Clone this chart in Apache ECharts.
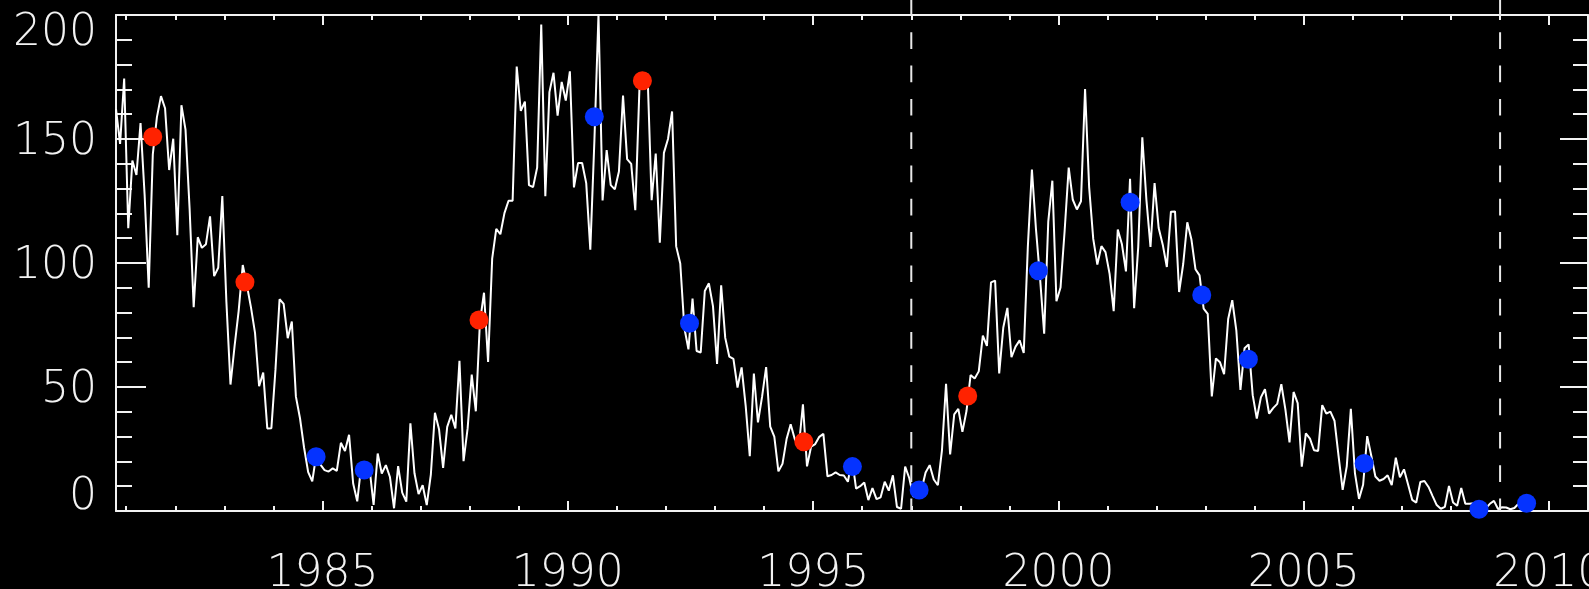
<!DOCTYPE html>
<html>
<head>
<meta charset="utf-8">
<title>Monthly sunspot number 1980-2010</title>
<script src="https://cdn.jsdelivr.net/npm/echarts@6.0.0/dist/echarts.min.js"></script>
<style>
  html, body { margin: 0; padding: 0; background: #000; }
  #chart { width: 1589px; height: 589px; }
</style>
</head>
<body>
<div id="chart"></div>
<script>
// Monthly mean sunspot number, Oct 1980 .. Dec 1989
const ssn1980s = [
  162.0, 148.0, 174.4,
  114.0, 141.3, 135.5, 156.4, 127.5, 90.0, 143.8, 158.7, 167.3, 162.4, 137.5, 150.1,
  111.2, 163.6, 153.8, 122.0, 82.2, 110.4, 106.1, 107.6, 118.8, 94.7, 98.1, 127.0,
  84.3, 51.0, 66.5, 80.7, 99.2, 91.1, 82.2, 71.8, 50.3, 55.8, 33.3, 33.4,
  57.0, 85.4, 83.5, 69.7, 76.4, 46.1, 37.4, 25.5, 15.7, 12.0, 22.8, 18.7,
  16.5, 15.9, 17.2, 16.2, 27.5, 24.2, 30.7, 11.1, 3.9, 18.6, 16.2, 17.3,
  2.5, 23.2, 15.1, 18.5, 13.7, 1.1, 18.1, 7.4, 3.8, 35.4, 15.2, 6.8,
  10.4, 2.4, 14.7, 39.6, 33.0, 17.4, 33.9, 38.8, 33.3, 60.6, 20.1, 33.4,
  55.0, 40.2, 76.2, 88.0, 60.1, 101.8, 113.8, 111.6, 120.1, 125.1, 125.1, 179.2,
  161.3, 165.1, 131.4, 130.6, 138.5, 196.2, 126.9, 168.9, 176.7, 159.4, 173.0, 165.5
];
// Jan 1990 .. Dec 1999
const ssn1990s = [
  177.3, 130.5, 140.3, 140.3, 132.2, 105.4, 149.4, 200.3, 125.2, 145.5, 131.4, 129.7,
  136.9, 167.5, 141.9, 140.0, 121.3, 169.7, 173.7, 176.3, 125.3, 144.1, 108.2, 144.4,
  150.0, 161.1, 106.7, 99.8, 73.8, 65.2, 85.7, 64.5, 63.9, 88.7, 91.8, 82.6,
  59.3, 91.0, 69.8, 62.2, 61.3, 49.8, 57.9, 42.4, 22.1, 55.4, 35.7, 46.0,
  58.0, 34.0, 30.0, 16.0, 19.0, 29.0, 35.0, 29.0, 26.0, 43.0, 18.0, 26.0,
  27.0, 29.9, 31.1, 14.0, 14.5, 15.6, 14.5, 14.3, 11.8, 21.1, 9.0, 10.0,
  11.5, 4.4, 9.2, 4.8, 5.5, 11.8, 8.2, 14.4, 1.6, 0.9, 17.9, 13.3,
  5.7, 7.6, 8.7, 15.5, 18.5, 12.7, 10.4, 24.4, 51.3, 22.8, 39.0, 41.2,
  31.9, 40.3, 54.8, 53.4, 56.3, 70.7, 66.6, 92.2, 92.9, 55.5, 74.0, 81.9,
  62.0, 66.3, 68.8, 63.7, 106.4, 137.7, 113.5, 93.7, 71.5, 116.7, 133.2, 84.6
];
// Jan 2000 .. Jul 2009
const ssn2000s = [
  90.1, 112.9, 138.5, 125.5, 121.6, 124.9, 170.1, 130.5, 109.7, 99.4, 106.8, 104.4,
  95.6, 80.6, 113.5, 107.7, 96.6, 134.0, 81.8, 106.4, 150.7, 125.5, 106.5, 132.2,
  114.1, 107.4, 98.4, 120.7, 120.8, 88.3, 99.6, 116.4, 109.6, 97.5, 95.0, 81.6,
  79.5, 46.2, 61.5, 60.0, 55.2, 77.4, 85.0, 72.7, 48.8, 65.6, 67.2, 46.7,
  37.3, 45.8, 49.1, 39.3, 41.5, 43.2, 51.1, 40.9, 27.7, 48.0, 43.5, 17.9,
  31.3, 29.2, 24.5, 24.2, 42.7, 39.3, 40.1, 36.4, 22.1, 8.5, 18.0, 41.2,
  15.3, 4.9, 10.6, 30.2, 22.3, 13.9, 12.2, 12.9, 14.4, 10.4, 21.5, 13.6,
  16.8, 10.7, 4.5, 3.4, 11.7, 12.1, 9.7, 6.0, 2.4, 0.9, 1.7, 10.1,
  3.4, 2.1, 9.3, 2.9, 2.9, 3.1, 0.5, 0.5, 1.1, 2.9, 4.1, 0.8,
  1.5, 1.4, 0.7, 1.2, 2.9, 2.9, 3.2
];

// Highlighted epochs [year, sunspot number]
const redPoints = [
  [1981.54, 150.9], [1983.42, 92.3], [1988.19, 77.0],
  [1991.52, 173.5], [1994.81, 27.9], [1998.15, 46.4]
];
const bluePoints = [
  [1984.87, 21.9], [1985.85, 16.5], [1990.54, 159.0], [1992.48, 75.7],
  [1995.80, 17.9], [1997.16, 8.5], [1999.59, 96.9], [2001.46, 124.5],
  [2002.92, 87.1], [2003.87, 61.2], [2006.23, 19.2], [2008.57, 0.7],
  [2009.54, 3.1]
];

// Vertical dashed markers (years)
const markerYears = [1997.0, 2009.0];

// Axis ticks and labels
const labelYears = [1985, 1990, 1995, 2000, 2005, 2010];
const minorYears = [];
for (let y = 1981; y <= 2010; y++) minorYears.push(y);
const yTicks = { min: 0, max: 200, step: 50 };
const xRange = { min: 1980 + 9.5 / 12, max: 2010 + 9.5 / 12 };

// month-centred time coordinate for a run of monthly values
function monthly(startYear, startMonth, values) {
  return values.map(function (v, k) {
    const idx = startMonth - 1 + k;
    const yr = startYear + Math.floor(idx / 12);
    const m = idx % 12;
    return [yr + (m + 0.5) / 12, v];
  });
}
const linePoints = monthly(1980, 10, ssn1980s)
  .concat(monthly(1990, 1, ssn1990s))
  .concat(monthly(2000, 1, ssn2000s));

const WHITE = '#f2f2f2';
const FONT = '"DejaVu Sans ExtraLight", "DejaVu Sans", sans-serif';

const chart = echarts.init(document.getElementById('chart'), null, { renderer: 'canvas' });

const labelRich = {
  top: { fontSize: 44, fontFamily: FONT, fontWeight: 200, color: WHITE, padding: [38, 0, 0, 0] },
  mid: { fontSize: 44, fontFamily: FONT, fontWeight: 200, color: WHITE, padding: [8, 0, 0, 0] },
  bot: { fontSize: 44, fontFamily: FONT, fontWeight: 200, color: WHITE, padding: [0, 0, 26, 0] }
};

function frameXAxis(gridIndex, position, ticks, len, showLine, showLabel) {
  return {
    type: 'value', gridIndex: gridIndex, position: position,
    min: xRange.min, max: xRange.max,
    axisLine: { show: showLine, onZero: false, lineStyle: { color: WHITE, width: 2 } },
    axisTick: { show: true, inside: true, length: len, customValues: ticks, lineStyle: { color: WHITE, width: 2 } },
    axisLabel: showLabel ? {
      show: true, customValues: labelYears, margin: 42, color: WHITE,
      fontSize: 44, fontFamily: FONT, fontWeight: 200,
      hideOverlap: false,
      formatter: function (v) { return String(Math.round(v)); }
    } : { show: false },
    splitLine: { show: false }
  };
}
function frameYAxis(gridIndex, position, majorLen, minorLen, showLabel, show) {
  return {
    type: 'value', gridIndex: gridIndex, position: position, show: show,
    min: yTicks.min, max: yTicks.max, interval: yTicks.step,
    axisLine: { show: true, onZero: false, lineStyle: { color: WHITE, width: 2 } },
    axisTick: { show: true, inside: true, length: majorLen, lineStyle: { color: WHITE, width: 2 } },
    minorTick: { show: true, splitNumber: 5, length: minorLen, lineStyle: { color: WHITE, width: 2 } },
    axisLabel: showLabel ? {
      show: true, margin: 19, color: WHITE, fontSize: 44, fontFamily: FONT, fontWeight: 200,
      formatter: function (v) {
        if (v === yTicks.max) return '{top|' + v + '}';
        if (v === yTicks.min) return '{bot|' + v + '}';
        return '{mid|' + v + '}';
      },
      rich: labelRich
    } : { show: false },
    splitLine: { show: false },
    minorSplitLine: { show: false }
  };
}

const gridRect = {
  left: 116, right: 1, top: 15, bottom: 78,
  containLabel: false, outerBoundsMode: 'none'
};

chart.setOption({
  backgroundColor: '#000',
  animation: false,
  grid: [
    Object.assign({}, gridRect),
    Object.assign({}, gridRect)
  ],
  xAxis: [
    frameXAxis(0, 'bottom', labelYears, 10, true, true),
    frameXAxis(0, 'top', labelYears, 10, true, false),
    frameXAxis(1, 'bottom', minorYears, 5, false, false),
    frameXAxis(1, 'top', minorYears, 5, false, false)
  ],
  yAxis: [
    frameYAxis(0, 'left', 30, 16, true, true),
    frameYAxis(0, 'right', 28, 15, false, true),
    frameYAxis(1, 'left', 0, 0, false, false)
  ],
  series: [
    {
      type: 'line', name: 'sunspots', xAxisIndex: 0, yAxisIndex: 0,
      data: linePoints, showSymbol: false, clip: true, z: 2,
      lineStyle: { color: '#ffffff', width: 2 }
    },
    {
      type: 'custom', name: 'markers', xAxisIndex: 0, yAxisIndex: 0, z: 3,
      clip: false,
      data: markerYears.map(function (y) { return [y]; }),
      renderItem: function (params, api) {
        const base = api.coord([api.value(0), yTicks.min]);
        return {
          type: 'line',
          shape: { x1: base[0], y1: 0, x2: base[0], y2: base[1] },
          style: { stroke: '#e8e8e8', lineWidth: 2, lineDash: [16.7, 16.6], lineDashOffset: 1 }
        };
      }
    },
    {
      type: 'scatter', name: 'red', xAxisIndex: 0, yAxisIndex: 0, z: 4,
      data: redPoints, symbol: 'circle', symbolSize: 19, clip: true,
      itemStyle: { color: '#ff2200', opacity: 1 }
    },
    {
      type: 'scatter', name: 'blue', xAxisIndex: 0, yAxisIndex: 0, z: 4,
      data: bluePoints, symbol: 'circle', symbolSize: 19, clip: true,
      itemStyle: { color: '#0533ff', opacity: 1 }
    }
  ]
});
</script>
</body>
</html>
